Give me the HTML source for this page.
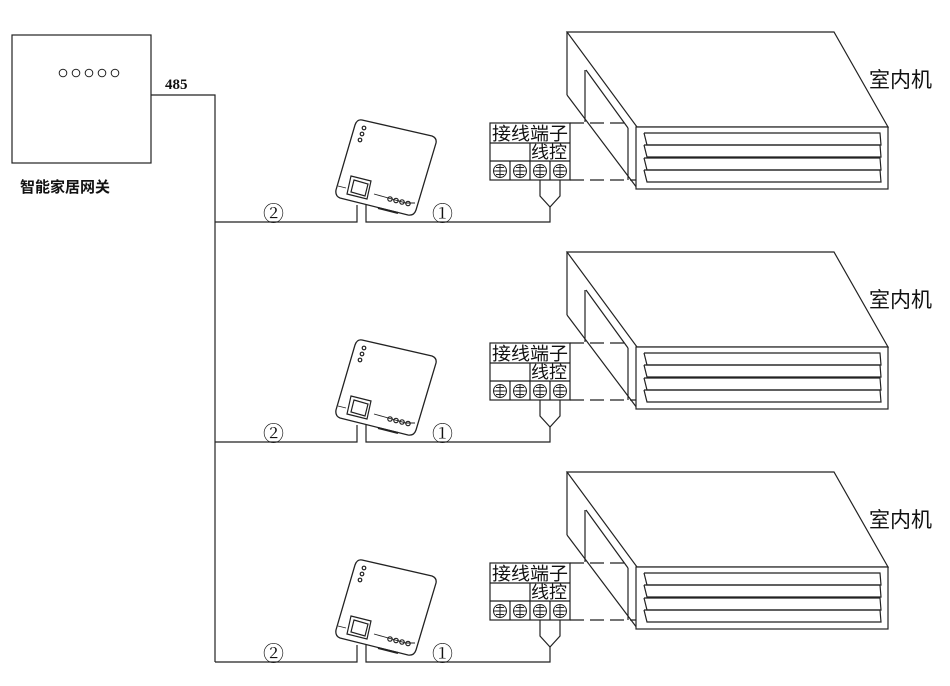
<!DOCTYPE html>
<html><head><meta charset="utf-8"><style>
html,body{margin:0;padding:0;background:#fff;}
svg{display:block;}
text{font-family:"Liberation Serif","Noto Serif CJK SC","Noto Sans CJK SC",serif;fill:#111;}
.cjk{font-family:"Liberation Sans","Noto Sans CJK SC",sans-serif;}
</style></head><body>
<svg width="950" height="686" viewBox="0 0 950 686" xmlns="http://www.w3.org/2000/svg">
<defs>
<g id="unit" fill="none" stroke="#222" stroke-width="1.2">
  <polygon points="567,32 834,32 888,127 637,127" fill="#fff"/>
  <line x1="567" y1="32" x2="567" y2="95"/>
  <line x1="567" y1="95" x2="637" y2="188"/>
  <line x1="585" y1="70" x2="585" y2="122"/>
  <line x1="586" y1="70" x2="628" y2="128"/>
  <line x1="628" y1="128" x2="628" y2="180"/>
  <rect x="636" y="127" width="252" height="62" fill="#fff"/>
  <polyline points="644,133 880,133 881,145 647,145 644,133"/>
  <polyline points="644,145 880,145 881,157 647,157 644,145"/>
  <polyline points="644,158 880,158 881,170 647,170 644,158"/>
  <polyline points="644,170 880,170 881,182 647,182 644,170"/>
  <line x1="570" y1="123" x2="628" y2="123" stroke-dasharray="14,6"/>
  <line x1="570" y1="180" x2="636" y2="180" stroke-dasharray="14,6"/>
  <rect x="490" y="123" width="80" height="57" fill="#fff"/>
  <line x1="490" y1="143" x2="570" y2="143"/>
  <line x1="490" y1="161" x2="570" y2="161"/>
  <line x1="530" y1="143" x2="530" y2="180"/>
  <line x1="510" y1="161" x2="510" y2="180"/>
  <line x1="550" y1="161" x2="550" y2="180"/>
  <g stroke-width="1">
    <circle cx="500" cy="171" r="6.5"/><path d="M494,171h12M500,165v12M496,167.5h8M496,174.5h8"/>
    <circle cx="520" cy="171" r="6.5"/><path d="M514,171h12M520,165v12M516,167.5h8M516,174.5h8"/>
    <circle cx="540" cy="171" r="6.5"/><path d="M534,171h12M540,165v12M536,167.5h8M536,174.5h8"/>
    <circle cx="560" cy="171" r="6.5"/><path d="M554,171h12M560,165v12M556,167.5h8M556,174.5h8"/>
  </g>
  <polyline points="540,180 540,196 550,207 560,196 560,180"/>
  <polyline points="550,207 550,222 366,222 366,205"/>
  <polyline points="215,222 357,222 357,205"/>
  <path d="M362,120 L432,136 Q437,138 436,143 L416,210 Q414,216 408,215 L340,198 Q335,196 336,190 L355,125 Q357,119 362,120 Z" fill="#fff" stroke-width="1.3"/>
  <path d="M338,186 L346,188 M374,194 L406,203 L415,203" stroke-width="0.9"/>
  <polygon points="351,176 371,181 367,199 347,194" fill="#fff"/>
  <polygon points="354,180 368,184 365,196 351,192"/>
  <circle cx="364" cy="128" r="1.8"/><circle cx="362" cy="134" r="1.8"/><circle cx="360" cy="140" r="1.8"/>
  <circle cx="390" cy="199" r="2.2"/><circle cx="396" cy="200.5" r="2.2"/><circle cx="402" cy="202" r="2.2"/><circle cx="408" cy="203.5" r="2.2"/>
  <line x1="378" y1="208" x2="398" y2="213" stroke-width="2"/>
</g>
<g id="labels">
  <text x="492" y="140" font-size="18" class="cjk" textLength="76" lengthAdjust="spacingAndGlyphs">接线端子</text>
  <text x="531" y="158" font-size="17" class="cjk" textLength="36" lengthAdjust="spacingAndGlyphs">线控</text>
  <text x="869" y="87" font-size="21" class="cjk">室内机</text>
  <text x="263" y="221" font-size="21">②</text>
  <text x="432" y="221" font-size="21">①</text>
</g>
</defs>

<rect x="12" y="35" width="139" height="128" fill="none" stroke="#222" stroke-width="1.2"/>
<g fill="none" stroke="#222" stroke-width="1">
  <circle cx="63" cy="73" r="3.8"/><circle cx="76" cy="73" r="3.8"/><circle cx="89" cy="73" r="3.8"/><circle cx="102" cy="73" r="3.8"/><circle cx="115" cy="73" r="3.8"/>
</g>
<text x="20" y="192" font-size="15" class="cjk" font-weight="bold">智能家居网关</text>
<text x="165" y="89" font-size="15" font-weight="bold">485</text>
<polyline points="151,95 215,95 215,662" fill="none" stroke="#222" stroke-width="1.2"/>

<use href="#unit"/><use href="#labels"/>
<g transform="translate(0,220)"><use href="#unit"/><use href="#labels"/></g>
<g transform="translate(0,440)"><use href="#unit"/><use href="#labels"/></g>
</svg>
</body></html>
